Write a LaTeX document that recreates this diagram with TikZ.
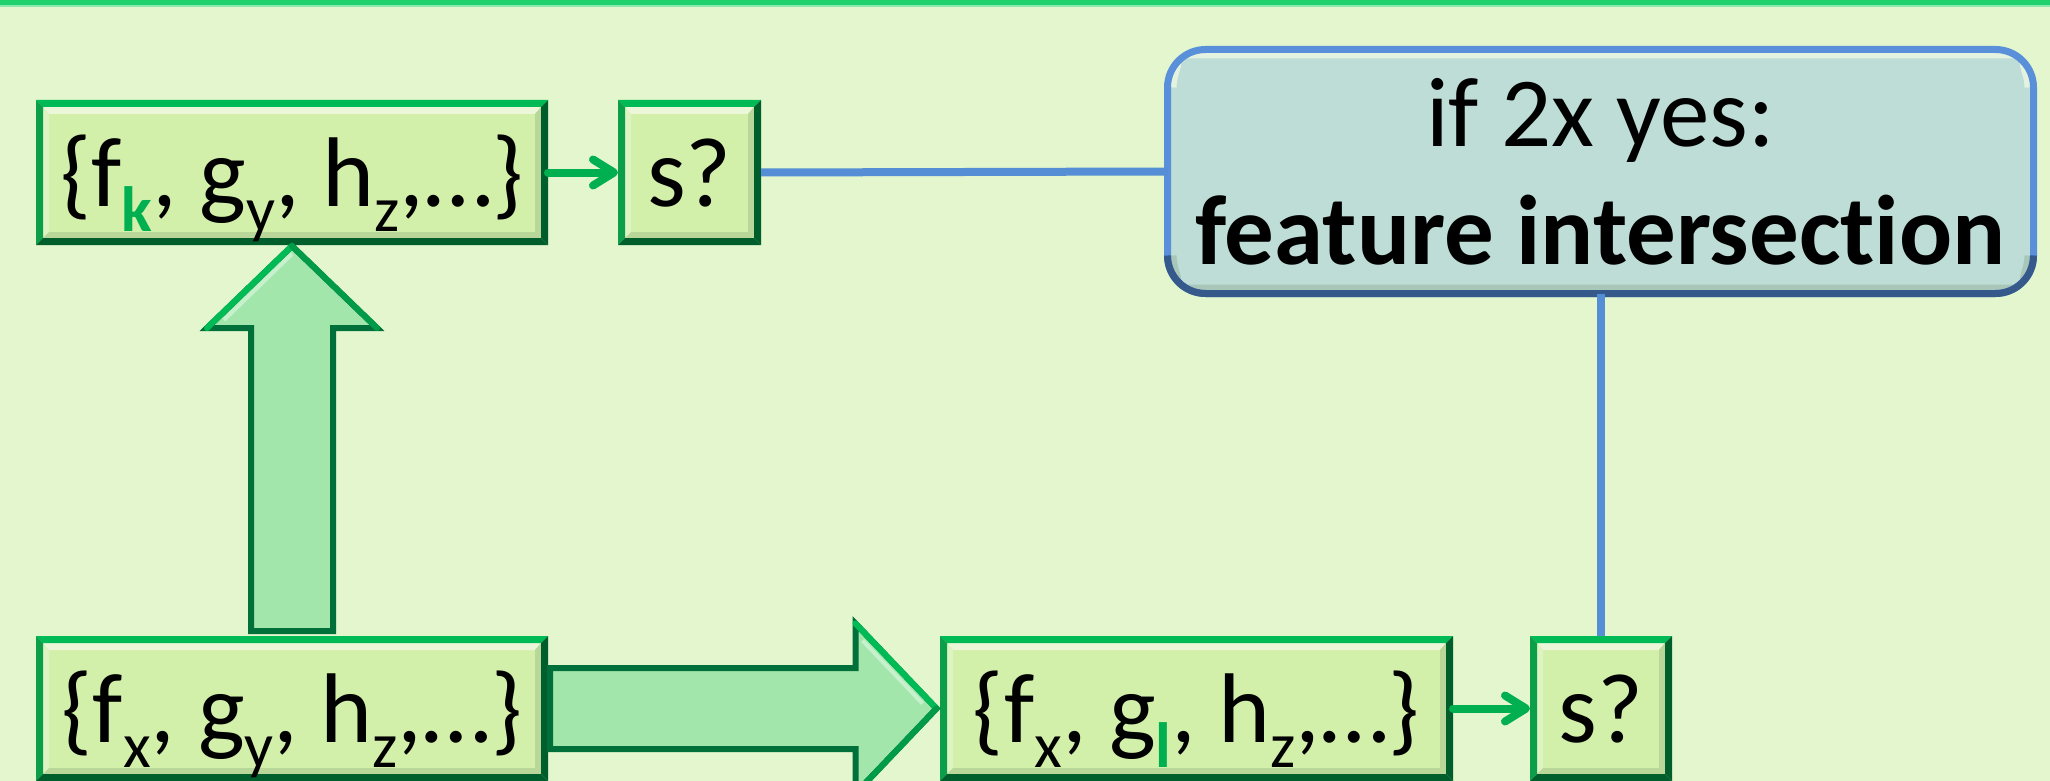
\documentclass[tikz,border=0pt]{standalone}
\usepackage{fontspec}
\setmainfont{Carlito}[Ligatures={NoCommon,NoContextual}]
\usetikzlibrary{calc,arrows.meta}

\definecolor{bg}{HTML}{E3F6CE}
\definecolor{rule}{HTML}{1FD06C}
\definecolor{rulelight}{HTML}{8CE9AE}
\definecolor{boxfill}{HTML}{D3F0AB}
\definecolor{edgetop}{HTML}{00BA55}
\definecolor{edgeleft}{HTML}{0C9E48}
\definecolor{edgedark}{HTML}{005E2C}
\definecolor{bandlight}{HTML}{EBF7D8}
\definecolor{bandside}{HTML}{DDF3C2}
\definecolor{banddark}{HTML}{BAD79A}
\definecolor{arrowfill}{HTML}{A3E6AC}
\definecolor{arrowedge}{HTML}{00703A}
\definecolor{arrowmid}{HTML}{009A48}
\definecolor{arrowhi}{HTML}{C6F1CC}
\definecolor{linkgreen}{HTML}{00B050}
\definecolor{linkblue}{HTML}{558ED5}
\definecolor{calfill}{HTML}{BDDDD6}
\definecolor{caledge}{HTML}{5A8FDA}
\definecolor{caldark}{HTML}{34598A}
\definecolor{calhi}{HTML}{E3F3E0}
\definecolor{calshade}{HTML}{A9C7B8}

% lowered, smaller index after a letter
\newcommand\sub[1]{\raisebox{-0.26em}{\fontsize{64pt}{64pt}\selectfont #1}}
% highlighted (changed) index
\newcommand\hl[1]{\textcolor{linkgreen}{\bfseries #1}}

% bevelled rim of a feature-set box, drawn beneath its text
\newcommand\boxbevel{%
  \coordinate (pnw) at (path picture bounding box.north west);
  \coordinate (pne) at (path picture bounding box.north east);
  \coordinate (psw) at (path picture bounding box.south west);
  \coordinate (pse) at (path picture bounding box.south east);
  \fill[bandlight] ([xshift=7pt,yshift=-7pt]pnw) -- ([xshift=-7pt,yshift=-7pt]pne)
     -- ([xshift=-13pt,yshift=-14pt]pne) -- ([xshift=13pt,yshift=-14pt]pnw) -- cycle;
  \fill[bandside] ([xshift=7pt,yshift=-7pt]pnw) -- ([xshift=13pt,yshift=-14pt]pnw)
     -- ([xshift=13pt,yshift=13pt]psw) -- ([xshift=7pt,yshift=7pt]psw) -- cycle;
  \fill[banddark] ([xshift=-7pt,yshift=-7pt]pne) -- ([xshift=-7pt,yshift=7pt]pse)
     -- ([xshift=-13pt,yshift=13pt]pse) -- ([xshift=-13pt,yshift=-14pt]pne) -- cycle;
  \fill[banddark] ([xshift=7pt,yshift=7pt]psw) -- ([xshift=-7pt,yshift=7pt]pse)
     -- ([xshift=-13pt,yshift=13pt]pse) -- ([xshift=13pt,yshift=13pt]psw) -- cycle;
  \fill[edgetop] (pnw) -- (pne) -- ([xshift=-7pt,yshift=-7pt]pne) -- ([xshift=7pt,yshift=-7pt]pnw) -- cycle;
  \fill[edgeleft] (pnw) -- ([xshift=7pt,yshift=-7pt]pnw) -- ([xshift=7pt,yshift=7pt]psw) -- (psw) -- cycle;
  \fill[edgedark] (pne) -- (pse) -- ([xshift=-7pt,yshift=7pt]pse) -- ([xshift=-7pt,yshift=-7pt]pne) -- cycle;
  \fill[edgedark] (psw) -- (pse) -- ([xshift=-7pt,yshift=7pt]pse) -- ([xshift=7pt,yshift=7pt]psw) -- cycle;
}

% light upper rim and darker lower rim inside the rounded callout
\newcommand\calbevel{%
  \coordinate (cnw) at (path picture bounding box.north west);
  \coordinate (cne) at (path picture bounding box.north east);
  \coordinate (csw) at (path picture bounding box.south west);
  \coordinate (cse) at (path picture bounding box.south east);
  \draw[calhi, line width=6pt] ([xshift=6pt,yshift=-38pt]cnw) arc[start angle=180,end angle=90,radius=32pt]
     -- ([xshift=-38pt,yshift=-6pt]cne) arc[start angle=90,end angle=0,radius=32pt];
  \draw[calshade, line width=6pt] ([xshift=6pt,yshift=38pt]csw) arc[start angle=180,end angle=270,radius=32pt]
     -- ([xshift=-38pt,yshift=6pt]cse) arc[start angle=270,end angle=360,radius=32pt];
}

\tikzset{
  setbox/.style={rectangle, draw=none, fill=boxfill, inner sep=0pt, outer sep=0pt,
    minimum height=145pt, text height=80pt, text depth=13pt,
    font=\fontsize{99pt}{118pt}\selectfont, path picture={\boxbevel}},
  callout/.style={rectangle, rounded corners=38pt, draw=caledge, line width=7pt, fill=calfill,
    inner sep=0pt, outer sep=0pt, minimum width=866pt, minimum height=244pt, align=center,
    font=\fontsize{99pt}{118pt}\selectfont, path picture={\calbevel}},
  link/.style={draw=linkgreen, line width=8pt, line cap=round,
    -{Straight Barb[length=21pt,width=26pt,line width=8pt,round]}},
  tie/.style={draw=linkblue, line width=8pt},
  bigarrow/.style={fill=arrowfill, draw=arrowedge, line width=6pt, line join=miter},
}

\begin{document}
\begin{tikzpicture}[x=1pt,y=-1pt]
\useasboundingbox (0,0) rectangle (2050,781);
\fill[bg] (0,0) rectangle (2050,781);
\fill[rule] (0,0) rectangle (2050,5);
\fill[rulelight] (0,5) rectangle (2050,7);

% feature sets and checks
\node[setbox, minimum width=512pt] (k1) at (292,172.5) {\{f\sub{\hl{k}}, g\sub{y}, h\sub{z},…\}};
\node[setbox, minimum width=143pt] (s1) at (689.5,172.5) {s?};
\node[setbox, minimum width=512pt] (b1) at (292,708.5) {\{f\sub{x}, g\sub{y}, h\sub{z},…\}};
\node[setbox, minimum width=513pt] (b2) at (1196.5,708.5) {\{f\sub{x}, g\sub{\hl{l}}, h\sub{z},…\}};
\node[setbox, minimum width=142pt] (s2) at (1601,708.5) {s?};

% result callout (the kern keeps t and i as separate glyphs)
\node[callout] (cal) at (1600.5,171.5) {if 2x yes:\\\textbf{feature intersect\kern0pt ion}};
\draw[caldark, line width=7pt] ([yshift=38pt]cal.south west) arc[start angle=180,end angle=270,radius=38pt]
   -- ([xshift=-38pt]cal.south east) arc[start angle=270,end angle=360,radius=38pt];

% connections to the callout
\draw[tie] (s1.east) -- (cal.west);
\draw[tie] (cal.south) -- (cal.south |- s2.north);

% checks
\draw[link] (k1.east) -- (s1.west);
\draw[link] (b2.east) -- (s2.west);

% block arrow upwards
\coordinate (ut) at ($(k1.south)+(0,1)$);
\coordinate (ub) at ($(b1.north)+(0,-5)$);
\draw[bigarrow] ($(ub)+(-41,0)$) -- ($(ut)+(-41,82)$) -- ($(ut)+(-85,82)$) -- (ut)
   -- ($(ut)+(85,82)$) -- ($(ut)+(41,82)$) -- ($(ub)+(41,0)$) -- cycle;
\draw[arrowhi, line width=4pt] ($(ut)+(-68,74)$) -- ($(ut)+(0,8)$);
\draw[edgetop, line width=6pt, line cap=round] ($(ut)+(-85,82)$) -- (ut);
\draw[arrowmid, line width=6pt, line cap=round] (ut) -- ($(ut)+(85,82)$);

% block arrow to the right
\coordinate (rt) at ($(b1.east)+(2,0)$);
\coordinate (rh) at ($(b2.west)+(-3.5,0)$);
\draw[bigarrow] ($(rt)+(0,-40.5)$) -- ($(rh)+(-81,-40.5)$) -- ($(rh)+(-81,-85)$) -- (rh)
   -- ($(rh)+(-81,85)$) -- ($(rh)+(-81,40.5)$) -- ($(rt)+(0,40.5)$) -- cycle;
\draw[arrowhi, line width=4pt] ($(rh)+(-74,-68)$) -- ($(rh)+(-14,-5)$);
\draw[edgetop, line width=6pt, line cap=round] ($(rh)+(-81,-85)$) -- (rh);
\draw[arrowmid, line width=6pt, line cap=round] (rh) -- ($(rh)+(-81,85)$);
\end{tikzpicture}
\end{document}
